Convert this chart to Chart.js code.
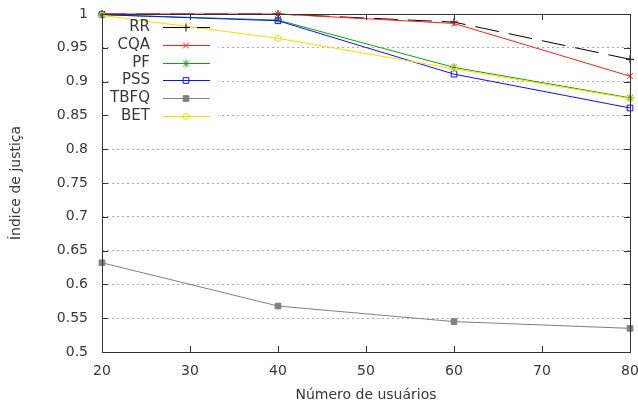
<!DOCTYPE html>
<html>
<head>
<meta charset="utf-8">
<script src="https://cdn.jsdelivr.net/npm/chart.js@4/dist/chart.umd.min.js"></script>
<style>
  html, body { margin: 0; padding: 0; background: #fff; }
  #wrap { width: 638px; height: 405px; }
</style>
</head>
<body>
<div id="wrap"><canvas id="c" width="638" height="405"></canvas></div>
<script>
// values
const users = [20, 40, 60, 80];
const rr = [1.0, 1.0, 0.988, 0.933];
const cqa = [1.0, 1.0, 0.986, 0.908];
const pf = [0.999, 0.991, 0.921, 0.876];
const pss = [0.999, 0.990, 0.911, 0.861];
const tbfq = [0.632, 0.568, 0.545, 0.535];
const bet = [0.998, 0.964, 0.919, 0.875];

const seriesNames = ["RR", "CQA", "PF", "PSS", "TBFQ", "BET"];
const seriesValues = [rr, cqa, pf, pss, tbfq, bet];
const seriesColors = ["#000000", "#ff2020", "#10a010", "#1010ff", "#808080", "#ffd700"];
const seriesPoints = ["cross", "crossRot", "star", "rect", "rect", "circle"];

const xLabel = "Número de usuários";
const yLabel = "Índice de justiça";

const FONT = "DejaVu Sans";
const TEXT = "#383838";

function makeDataset(i) {
    const filled = seriesNames[i] == "TBFQ";
    return {
        label: seriesNames[i],
        data: users.map((u, k) => ({ x: u, y: seriesValues[i][k] })),
        borderColor: seriesColors[i],
        backgroundColor: filled ? seriesColors[i] : "rgba(0,0,0,0)",
        borderWidth: 1,
        borderDash: seriesNames[i] == "RR" ? [24, 10] : [],
        pointStyle: seriesPoints[i],
        pointRadius: seriesPoints[i] == "circle" ? 3 : 4,
        pointBorderWidth: 1,
        pointBorderColor: seriesColors[i],
        pointBackgroundColor: filled ? seriesColors[i] : "rgba(0,0,0,0)",
        tension: 0,
        clip: false,
        order: seriesNames.length - i
    };
}

function noPad(s) {
    s.paddingLeft = 0;
    s.paddingRight = 0;
    s.paddingTop = 0;
    s.paddingBottom = 0;
}

// gnuplot-ish frame: border box, inward ticks, legend, axis titles
const framePlugin = {
    id: "frame",
    beforeDatasetsDraw(chart) {
        // white box behind the legend entries
        const ctx = chart.ctx;
        ctx.save();
        ctx.fillStyle = "#fff";
        ctx.fillRect(110, 19, 108, 106);
        ctx.restore();
    },
    afterDraw(chart) {
        const ctx = chart.ctx;
        const a = chart.chartArea;
        const xs = chart.scales.x;
        const ys = chart.scales.y;
        ctx.save();
        ctx.strokeStyle = "#333";
        ctx.lineWidth = 1;
        ctx.setLineDash([]);
        ctx.strokeRect(Math.round(a.left) + 0.5, Math.round(a.top) + 0.5,
            Math.round(a.right - a.left), Math.round(a.bottom - a.top));
        ctx.beginPath();
        xs.ticks.forEach(t => {
            const px = Math.round(xs.getPixelForValue(t.value)) + 0.5;
            ctx.moveTo(px, a.bottom); ctx.lineTo(px, a.bottom - 6);
            ctx.moveTo(px, a.top); ctx.lineTo(px, a.top + 6);
        });
        ys.ticks.forEach(t => {
            const py = Math.round(ys.getPixelForValue(t.value)) + 0.5;
            ctx.moveTo(a.left, py); ctx.lineTo(a.left + 6, py);
            ctx.moveTo(a.right, py); ctx.lineTo(a.right - 6, py);
        });
        ctx.stroke();

        // legend: text right aligned, then sample line with marker
        ctx.font = "15px '" + FONT + "'";
        ctx.textAlign = "right";
        ctx.textBaseline = "middle";
        seriesNames.forEach((name, i) => {
            const y = Math.round(27 + i * 17.8) + 0.5;
            const ds = chart.data.datasets[i];
            ctx.fillStyle = TEXT;
            ctx.fillText(name, 150, y);
            ctx.strokeStyle = seriesColors[i];
            ctx.lineWidth = 1;
            ctx.setLineDash(name == "RR" ? [24, 10] : []);
            ctx.beginPath();
            ctx.moveTo(163, y);
            ctx.lineTo(210, y);
            ctx.stroke();
            ctx.setLineDash([]);
            ctx.fillStyle = ds.pointBackgroundColor;
            ctx.strokeStyle = seriesColors[i];
            Chart.helpers.drawPoint(ctx, {
                pointStyle: ds.pointStyle,
                radius: ds.pointRadius,
                borderWidth: 1,
                rotation: 0
            }, 186, y);
        });

        // axis titles
        ctx.fillStyle = TEXT;
        ctx.font = "14px '" + FONT + "'";
        ctx.textAlign = "center";
        ctx.textBaseline = "middle";
        ctx.fillText(xLabel, (a.left + a.right) / 2, 395);
        ctx.translate(16, (a.top + a.bottom) / 2);
        ctx.rotate(-Math.PI / 2);
        ctx.fillText(yLabel, 0, 0);
        ctx.restore();
    }
};

new Chart(document.getElementById("c").getContext("2d"), {
    type: "line",
    data: { datasets: seriesNames.map((n, i) => makeDataset(i)) },
    options: {
        responsive: false,
        animation: false,
        events: [],
        layout: { padding: { left: 0, top: 14, right: 8, bottom: 0 } },
        plugins: { legend: { display: false }, tooltip: { enabled: false } },
        scales: {
            x: {
                type: "linear",
                min: 20,
                max: 80,
                ticks: { stepSize: 10, padding: 11, color: TEXT, font: { family: FONT, size: 14 } },
                grid: { display: false, drawTicks: false },
                border: { display: false },
                afterFit(s) { s.height = 53; noPad(s); }
            },
            y: {
                min: 0.5,
                max: 1,
                ticks: {
                    stepSize: 0.05,
                    padding: 14,
                    color: TEXT,
                    font: { family: FONT, size: 14 },
                    callback: v => String(Number(v.toFixed(2)))
                },
                grid: {
                    drawTicks: false,
                    color: "#aaa",
                    lineWidth: 1
                },
                border: { display: false, dash: [2, 3] },
                afterFit(s) { s.width = 102; noPad(s); }
            }
        }
    },
    plugins: [framePlugin]
});
</script>
</body>
</html>
